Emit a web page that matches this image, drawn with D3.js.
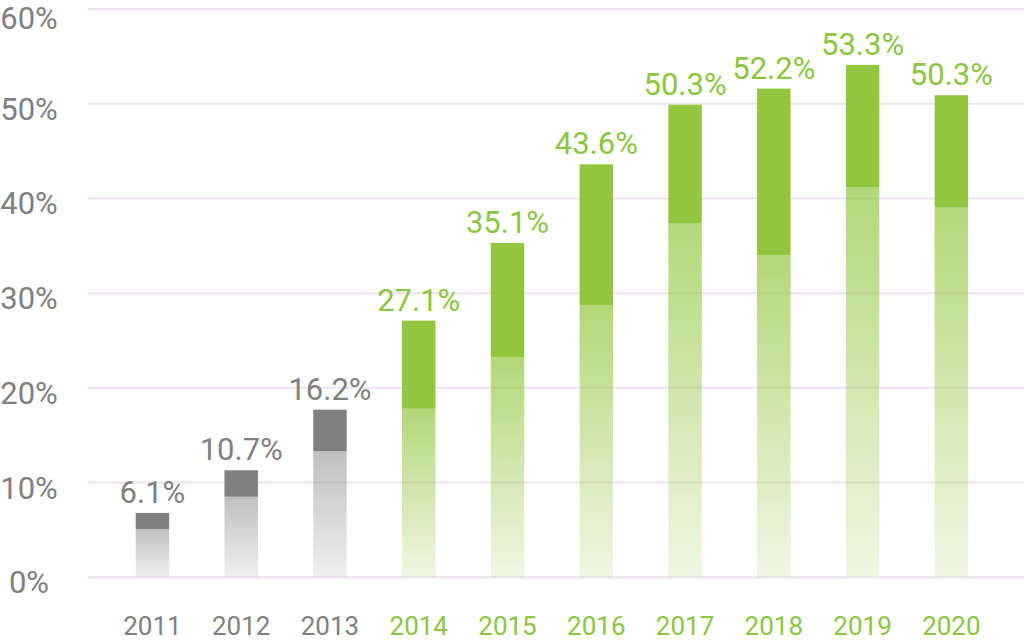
<!DOCTYPE html>
<html>
<head>
<meta charset="utf-8">
<script src="https://cdn.jsdelivr.net/npm/d3@7"></script>
<style>
  html, body { margin: 0; padding: 0; background: #ffffff; }
  svg { display: block; font-family: Roboto, "Noto Sans", sans-serif; }
</style>
</head>
<body>
<svg id="chart" width="1024" height="641"></svg>
<script>
// ---- data ----
const years = ["2011","2012","2013","2014","2015","2016","2017","2018","2019","2020"];
const totals = [6.8, 11.3, 17.7, 27.1, 35.3, 43.6, 49.9, 51.6, 54.1, 50.9];   // full bar height (%)
const baseParts = [5.1, 8.5, 13.3, 17.8, 23.2, 28.75, 37.4, 34.0, 41.2, 39.1]; // faded lower section (%)
const valueLabels = ["6.1%","10.7%","16.2%","27.1%","35.1%","43.6%","50.3%","52.2%","53.3%","50.3%"];
const groups = ["grey","grey","grey","green","green","green","green","green","green","green"];
const yTicks = [0, 10, 20, 30, 40, 50, 60];

// ---- styles ----
const colors = {
  grey: { bar: "#808080", text: "#808080", topOpacity: 0.5, bottomOpacity: 0.12 },
  green: { bar: "#93c63e", text: "#8cc63f", topOpacity: 0.7, bottomOpacity: 0.14 }
};

const svg = d3.select("#chart");

const x = d3.scaleBand().domain(years).range([80.4, 1023.4]).padding(0.623);
const y = d3.scaleLinear().domain([0, 60]).range([577.3, 9]);

// gradients
const defs = svg.append("defs");
Object.entries(colors).forEach(([key, c]) => {
  const g = defs.append("linearGradient")
    .attr("id", "grad-" + key)
    .attr("x1", 0).attr("y1", 0).attr("x2", 0).attr("y2", 1);
  g.append("stop").attr("offset", "0%").attr("stop-color", c.bar).attr("stop-opacity", c.topOpacity);
  g.append("stop").attr("offset", "100%").attr("stop-color", c.bar).attr("stop-opacity", c.bottomOpacity);
});

// gridlines
svg.append("g").selectAll("line").data(yTicks).join("line")
  .attr("x1", 88).attr("x2", 1024)
  .attr("y1", d => y(d)).attr("y2", d => y(d))
  .attr("stroke", "#ede3f0").attr("stroke-width", 2);

// y labels
svg.append("g").selectAll("text").data(yTicks).join("text")
  .attr("x", 29).attr("y", d => Math.max(y(d) + 16, 29))
  .attr("text-anchor", "middle")
  .attr("font-size", 31)
  .attr("fill", "#808080")
  .text(d => d + "%");

const data = years.map((yr, i) => ({ yr, total: totals[i], base: baseParts[i], label: valueLabels[i], group: groups[i] }));

const bars = svg.append("g").selectAll("g").data(data).join("g");

// dark top segments
bars.append("rect")
  .attr("x", d => x(d.yr))
  .attr("width", x.bandwidth())
  .attr("y", d => y(d.total))
  .attr("height", d => y(d.base) - y(d.total))
  .attr("fill", d => colors[d.group].bar);

// faded lower segments
bars.append("rect")
  .attr("x", d => x(d.yr))
  .attr("width", x.bandwidth())
  .attr("y", d => y(d.base))
  .attr("height", d => y(0) - y(d.base))
  .attr("fill", d => "url(#grad-" + d.group + ")");

// value labels
bars.append("text")
  .attr("x", d => x(d.yr) + x.bandwidth() / 2)
  .attr("y", d => y(d.total) - 10)
  .attr("text-anchor", "middle")
  .attr("font-size", 31)
  .attr("fill", d => colors[d.group].text)
  .text(d => d.label);

// x labels
svg.append("g").selectAll("text").data(data).join("text")
  .attr("x", d => x(d.yr) + x.bandwidth() / 2)
  .attr("y", 635)
  .attr("text-anchor", "middle")
  .attr("font-size", 26)
  .attr("fill", d => colors[d.group].text)
  .text(d => d.yr);
</script>
</body>
</html>
